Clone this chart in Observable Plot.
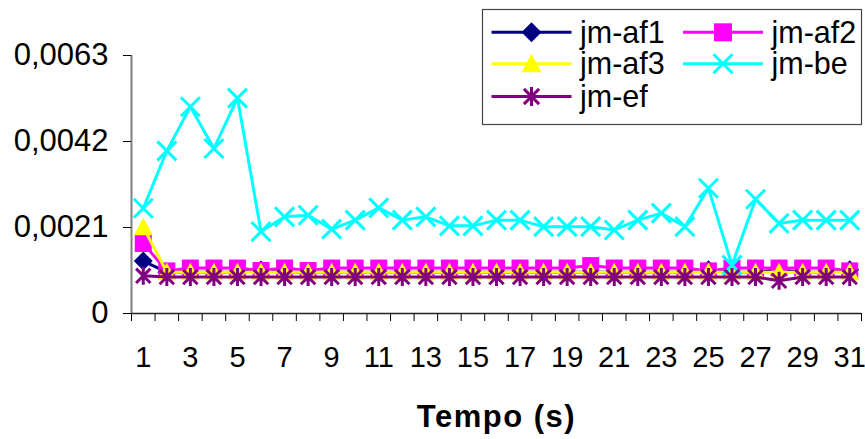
<!DOCTYPE html>
<html><head><meta charset="utf-8">
<script src="https://cdn.jsdelivr.net/npm/d3@7"></script>
<script src="https://cdn.jsdelivr.net/npm/@observablehq/plot@0.6"></script>
<style>
html,body{margin:0;padding:0;background:#fff;}
#chart{width:865px;height:439px;}
svg{font-family:"Liberation Sans",Arial,sans-serif;}
g[font-weight="bold"] text{letter-spacing:1.5px;}
</style></head><body><div id="chart"></div>
<script>
// ---- data ----
const tempo = [1,2,3,4,5,6,7,8,9,10,11,12,13,14,15,16,17,18,19,20,21,22,23,24,25,26,27,28,29,30,31];
const jmAf1 = [0.00128,0.00101,0.00101,0.00101,0.00101,0.00106,0.00101,0.00101,0.00101,0.00101,0.00101,0.00101,0.00101,0.00101,0.00101,0.00101,0.00101,0.00101,0.00101,0.00101,0.00101,0.00101,0.00101,0.00101,0.00107,0.00101,0.00101,0.00106,0.00101,0.00101,0.00107];
const jmAf2 = [0.00171,0.00104,0.00111,0.00111,0.00111,0.00105,0.00111,0.00105,0.00111,0.00111,0.00111,0.00111,0.00111,0.00111,0.00111,0.00111,0.00111,0.00111,0.00111,0.00117,0.00111,0.00111,0.00111,0.00111,0.00104,0.00111,0.00111,0.00111,0.00111,0.00111,0.00104];
const jmAf3 = [0.00211,0.00101,0.00101,0.00101,0.00101,0.00101,0.00101,0.00101,0.00101,0.00101,0.00101,0.00101,0.00101,0.00101,0.00101,0.00101,0.00101,0.00101,0.00101,0.00101,0.00101,0.00101,0.00101,0.00101,0.00101,0.00101,0.00101,0.00101,0.00101,0.00101,0.00101];
const jmBe  = [0.00257,0.00397,0.00505,0.00403,0.00526,0.00200,0.00236,0.00240,0.00206,0.00228,0.00258,0.00228,0.00236,0.00214,0.00214,0.00228,0.00228,0.00212,0.00212,0.00212,0.00204,0.00228,0.00245,0.00212,0.00306,0.00118,0.00279,0.00220,0.00228,0.00228,0.00228];
const jmEf  = [0.00092,0.00089,0.00089,0.00089,0.00089,0.00089,0.00089,0.00089,0.00089,0.00089,0.00089,0.00089,0.00089,0.00089,0.00089,0.00089,0.00089,0.00089,0.00089,0.00089,0.00089,0.00089,0.00089,0.00089,0.00089,0.00089,0.00089,0.00080,0.00089,0.00089,0.00089];
const seriesNames = ["jm-af1","jm-af2","jm-af3","jm-be","jm-ef"];
const seriesValues = [jmAf1, jmAf2, jmAf3, jmBe, jmEf];
const seriesColors = ["#000080","#FF00FF","#FFFF00","#00FFFF","#800080"];
const yTicks = [0, 0.0021, 0.0042, 0.0063];
const xLabels = [1,3,5,7,9,11,13,15,17,19,21,23,25,27,29,31];
const xTitle = "Tempo (s)";

// ---- custom Excel-like symbols ----
const rOf = s => Math.sqrt(s / Math.PI);
const symDiamond = {draw(c, s){const r=rOf(s); c.moveTo(0,-r); c.lineTo(r,0); c.lineTo(0,r); c.lineTo(-r,0); c.closePath();}};
const symSquare = {draw(c, s){const r=rOf(s); c.moveTo(-r,-r); c.lineTo(r,-r); c.lineTo(r,r); c.lineTo(-r,r); c.closePath();}};
const symTriangle = {draw(c, s){const r=rOf(s); c.moveTo(0,-r); c.lineTo(r,r*0.85); c.lineTo(-r,r*0.85); c.closePath();}};
const symX = {draw(c, s){const r=rOf(s); c.moveTo(-r,-r); c.lineTo(r,r); c.moveTo(-r,r); c.lineTo(r,-r);}};
const symStar = {draw(c, s){const r=rOf(s); c.moveTo(0,-r); c.lineTo(0,r); c.moveTo(-r*0.8,-r*0.8); c.lineTo(r*0.8,r*0.8); c.moveTo(-r*0.8,r*0.8); c.lineTo(r*0.8,-r*0.8);}};
const seriesSymbols = [symDiamond, symSquare, symTriangle, symX, symStar];
const seriesR = [9.5, 8.5, 9.5, 9.5, 9];
const legendR = [10, 9, 10, 9.5, 9.5];
const seriesFilled = [true, true, true, false, false];

const rows = seriesNames.map((name, i) => tempo.map((t, j) => ({t, v: seriesValues[i][j], name})));
const boundaries = tempo.map(t => t - 0.5).concat([tempo[tempo.length-1] + 0.5]);

const marks = [
  Plot.ruleX([boundaries[0]], {stroke: "#808080", strokeWidth: 2}),
  Plot.axisY(yTicks, {tickSize: 8, tickPadding: 15, fontSize: 31, label: null,
    tickFormat: d => d === 0 ? "0" : d.toFixed(4).replace(".", ",")}),
  Plot.axisX(boundaries, {tickSize: 8, tickFormat: () => "", label: null}),
  Plot.axisX(xLabels, {tickSize: 0, tickPadding: 33, fontSize: 29, label: null}),
  Plot.ruleY([0], {stroke: "#222", strokeWidth: 1.5})
];
rows.forEach((data, i) => {
  marks.push(Plot.line(data, {x: "t", y: "v", stroke: seriesColors[i], strokeWidth: 3}));
  marks.push(Plot.dot(data, seriesFilled[i]
    ? {x: "t", y: "v", symbol: seriesSymbols[i], r: seriesR[i], fill: seriesColors[i], stroke: "none"}
    : {x: "t", y: "v", symbol: seriesSymbols[i], r: seriesR[i], stroke: seriesColors[i], strokeWidth: 3, fill: "none"}));
});
marks.push(Plot.text([xTitle], {text: d => d, frameAnchor: "bottom", dy: 113, fontSize: 31, fontWeight: "bold", fill: "black"}));

const plot = Plot.plot({
  width: 865, height: 439,
  marginLeft: 131, marginRight: 4, marginTop: 55, marginBottom: 126,
  x: {type: "linear", domain: [boundaries[0], boundaries[boundaries.length-1]]},
  y: {domain: [0, 0.0063]},
  style: {fontFamily: '"Liberation Sans", Arial, sans-serif', color: "black", background: "white", overflow: "visible"},
  marks
});
document.getElementById("chart").appendChild(plot);

// ---- legend ----
const svg = d3.select(plot);
const lg = svg.append("g").attr("class", "legend").attr("text-anchor", "start");
lg.append("rect").attr("x", 482.5).attr("y", 9.5).attr("width", 379).attr("height", 115)
  .attr("fill", "white").attr("stroke", "#444").attr("stroke-width", 1.2);
const colX = [491.5, 683];
const rowY = [32.3, 63.8, 96.5];
seriesNames.forEach((name, i) => {
  const cx = colX[i % 2], cy = rowY[Math.floor(i / 2)];
  lg.append("line").attr("x1", cx).attr("x2", cx + 80).attr("y1", cy).attr("y2", cy)
    .attr("stroke", seriesColors[i]).attr("stroke-width", 3);
  const p = d3.symbol(seriesSymbols[i], Math.PI * legendR[i] * legendR[i])();
  const sym = lg.append("path").attr("d", p).attr("transform", `translate(${cx + 40},${cy})`);
  if (seriesFilled[i]) sym.attr("fill", seriesColors[i]);
  else sym.attr("fill", "none").attr("stroke", seriesColors[i]).attr("stroke-width", 3);
  lg.append("text").attr("x", cx + 88.5).attr("y", cy + 10.5).attr("font-size", 30.5)
    .attr("text-anchor", "start").attr("fill", "black").text(name);
});
</script></body></html>
